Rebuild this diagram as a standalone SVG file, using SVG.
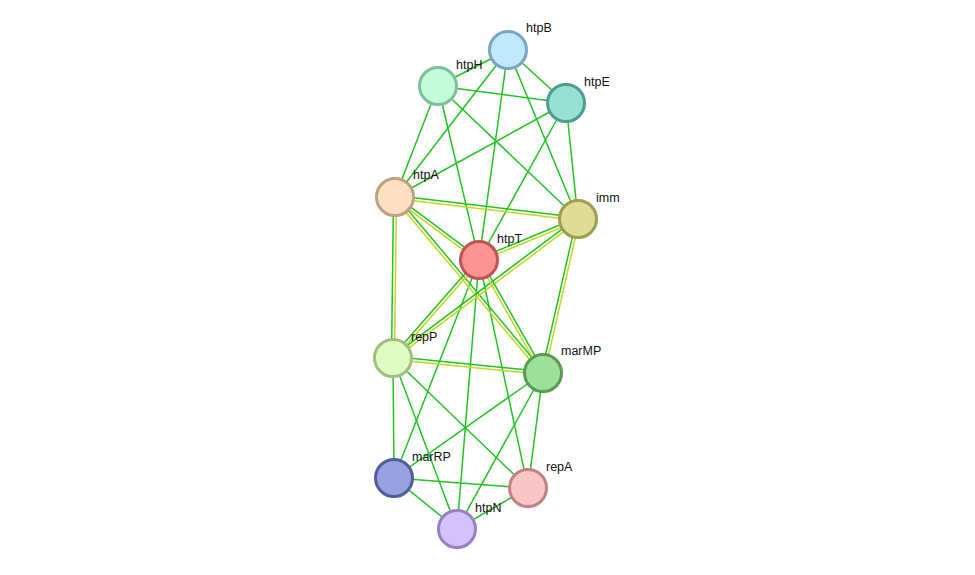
<svg xmlns="http://www.w3.org/2000/svg" width="975" height="575" viewBox="0 0 975 575">
<style>
.g{stroke:#22c322;stroke-width:1.5;fill:none}
.y{stroke:#c3d81e;stroke-width:1.5;fill:none}
.n{stroke-width:3}
text{font-family:"Liberation Sans",Arial,sans-serif;font-size:12.5px;fill:#111}
</style>
<rect width="975" height="575" fill="#fff"/>
<g id="edges">
<line class="g" x1="508" y1="50" x2="438" y2="86"/>
<line class="g" x1="508" y1="50" x2="566" y2="103"/>
<line class="g" x1="508" y1="50" x2="395" y2="197"/>
<line class="g" x1="508" y1="50" x2="479" y2="260"/>
<line class="g" x1="508" y1="50" x2="578" y2="219"/>
<line class="g" x1="438" y1="86" x2="566" y2="103"/>
<line class="g" x1="438" y1="86" x2="395" y2="197"/>
<line class="g" x1="438" y1="86" x2="479" y2="260"/>
<line class="g" x1="438" y1="86" x2="578" y2="219"/>
<line class="g" x1="566" y1="103" x2="395" y2="197"/>
<line class="g" x1="566" y1="103" x2="479" y2="260"/>
<line class="g" x1="566" y1="103" x2="578" y2="219"/>
<line class="g" x1="479" y1="260" x2="394" y2="478"/>
<line class="g" x1="479" y1="260" x2="457" y2="529"/>
<line class="g" x1="479" y1="260" x2="528" y2="488"/>
<line class="g" x1="393" y1="358" x2="394" y2="478"/>
<line class="g" x1="393" y1="358" x2="457" y2="529"/>
<line class="g" x1="393" y1="358" x2="528" y2="488"/>
<line class="g" x1="543" y1="373" x2="394" y2="478"/>
<line class="g" x1="543" y1="373" x2="457" y2="529"/>
<line class="g" x1="543" y1="373" x2="528" y2="488"/>
<line class="g" x1="394" y1="478" x2="528" y2="488"/>
<line class="g" x1="394" y1="478" x2="457" y2="529"/>
<line class="g" x1="457" y1="529" x2="528" y2="488"/>
<!-- double edges -->
<g transform="translate(0.18,-1.49)"><line class="g" x1="395" y1="197" x2="578" y2="219"/></g>
<g transform="translate(-0.18,1.49)"><line class="y" x1="395" y1="197" x2="578" y2="219"/></g>
<g transform="translate(0.9,-1.2)"><line class="g" x1="395" y1="197" x2="479" y2="260"/></g>
<g transform="translate(-0.9,1.2)"><line class="y" x1="395" y1="197" x2="479" y2="260"/></g>
<g transform="translate(1.15,-0.97)"><line class="g" x1="395" y1="197" x2="543" y2="373"/></g>
<g transform="translate(-1.15,0.97)"><line class="y" x1="395" y1="197" x2="543" y2="373"/></g>
<g transform="translate(-1.5,0)"><line class="g" x1="395" y1="197" x2="393" y2="358"/></g>
<g transform="translate(1.5,0)"><line class="y" x1="395" y1="197" x2="393" y2="358"/></g>
<g transform="translate(-0.57,-1.39)"><line class="g" x1="578" y1="219" x2="479" y2="260"/></g>
<g transform="translate(0.57,1.39)"><line class="y" x1="578" y1="219" x2="479" y2="260"/></g>
<g transform="translate(-0.9,-1.2)"><line class="g" x1="578" y1="219" x2="393" y2="358"/></g>
<g transform="translate(0.9,1.2)"><line class="y" x1="578" y1="219" x2="393" y2="358"/></g>
<g transform="translate(-1.46,-0.33)"><line class="g" x1="578" y1="219" x2="543" y2="373"/></g>
<g transform="translate(1.46,0.33)"><line class="y" x1="578" y1="219" x2="543" y2="373"/></g>
<g transform="translate(-1.13,-0.99)"><line class="g" x1="479" y1="260" x2="393" y2="358"/></g>
<g transform="translate(1.13,0.99)"><line class="y" x1="479" y1="260" x2="393" y2="358"/></g>
<g transform="translate(1.3,-0.74)"><line class="g" x1="479" y1="260" x2="543" y2="373"/></g>
<g transform="translate(-1.3,0.74)"><line class="y" x1="479" y1="260" x2="543" y2="373"/></g>
<g transform="translate(0.15,-1.49)"><line class="g" x1="393" y1="358" x2="543" y2="373"/></g>
<g transform="translate(-0.15,1.49)"><line class="y" x1="393" y1="358" x2="543" y2="373"/></g>
</g>
<g id="htpB"><circle class="n" cx="508" cy="50" r="18.5" fill="#c2e8fc" stroke="#7aa6c4"/><text x="526" y="32">htpB</text></g>
<g id="htpH"><circle class="n" cx="438" cy="86" r="18.5" fill="#c2fcd8" stroke="#7fc09a"/><text x="456" y="69">htpH</text></g>
<g id="htpE"><circle class="n" cx="566" cy="103" r="18.5" fill="#98e0d4" stroke="#4f9c90"/><text x="584" y="86">htpE</text></g>
<g id="htpA"><circle class="n" cx="395" cy="197" r="18.5" fill="#fde0c2" stroke="#c0a080"/><text x="413" y="179">htpA</text></g>
<g id="imm"><circle class="n" cx="578" cy="219" r="18.5" fill="#e0dc96" stroke="#a09c50"/><text x="596" y="202">imm</text></g>
<g id="htpT"><circle class="n" cx="479" cy="260" r="18.5" fill="#fc9494" stroke="#c05454"/><text x="497" y="243">htpT</text></g>
<g id="repP"><circle class="n" cx="393" cy="358" r="18.5" fill="#e0fcc2" stroke="#a0c080"/><text x="411" y="341">repP</text></g>
<g id="marMP"><circle class="n" cx="543" cy="373" r="18.5" fill="#9ee09a" stroke="#5a9c56"/><text x="561" y="355">marMP</text></g>
<g id="marRP"><circle class="n" cx="394" cy="478" r="18.5" fill="#98a2e0" stroke="#525e9c"/><text x="412" y="461">marRP</text></g>
<g id="repA"><circle class="n" cx="528" cy="488" r="18.5" fill="#f8c6c6" stroke="#be8484"/><text x="546" y="471">repA</text></g>
<g id="htpN"><circle class="n" cx="457" cy="529" r="18.5" fill="#d4c2fc" stroke="#9882c0"/><text x="475" y="512">htpN</text></g>
</svg>
